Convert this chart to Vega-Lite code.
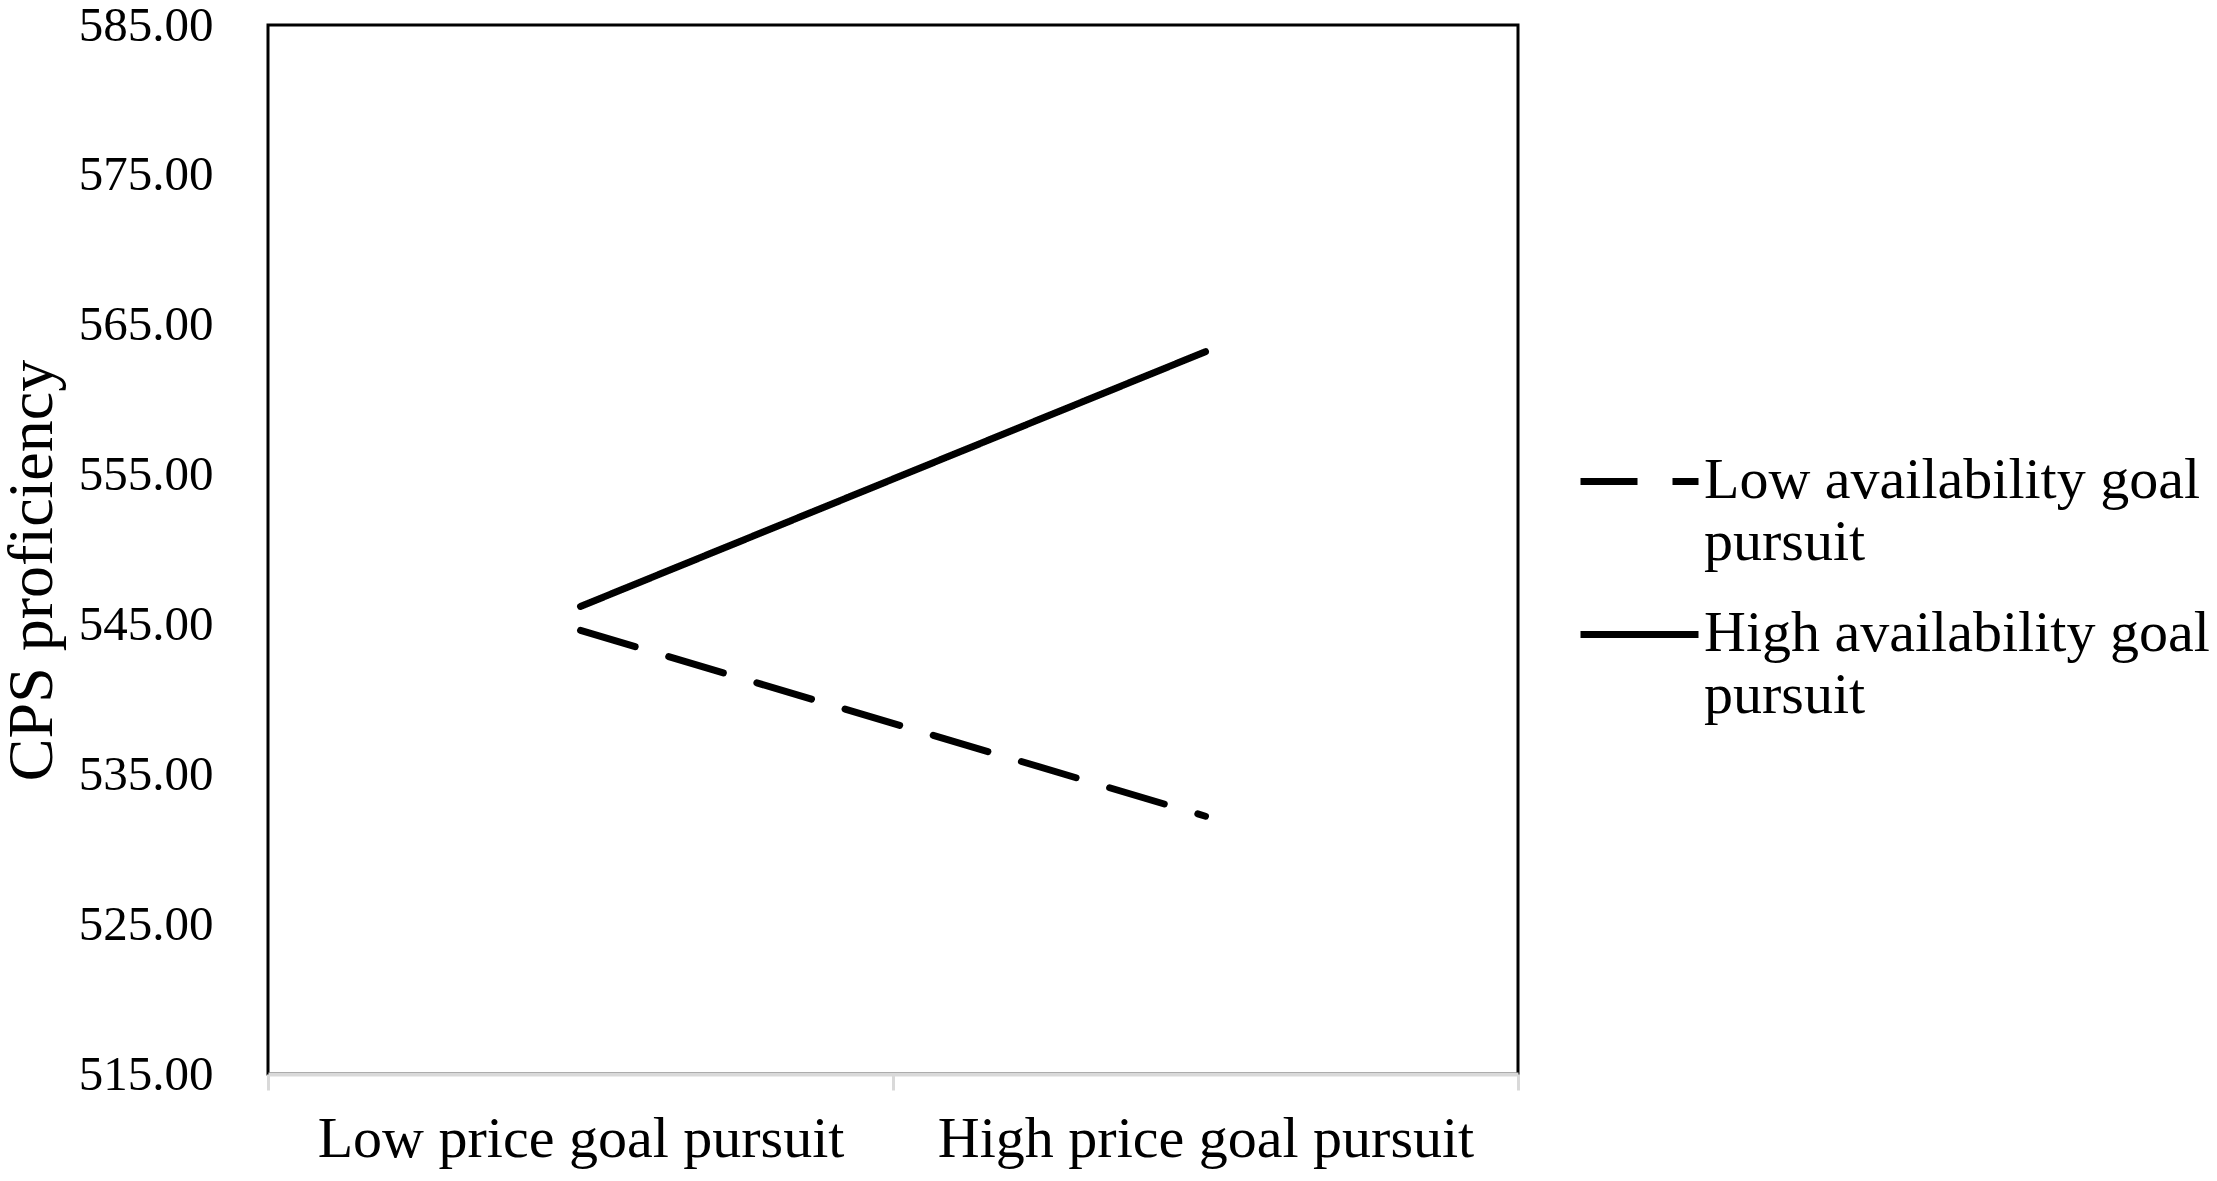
{
  "$schema": "https://vega.github.io/schema/vega-lite/v6.json",
  "autosize": {"type": "none"},
  "padding": {"left": 268, "top": 25, "right": 699, "bottom": 107},
  "width": 1250,
  "height": 1049,
  "background": "white",
  "config": {
    "view": {"stroke": "black", "strokeWidth": 3},
    "font": "Liberation Serif"
  },
  "data": {
    "values": [
      {"price": "Low price goal pursuit", "availability": "Low availability goal pursuit", "cps": 544.6},
      {"price": "High price goal pursuit", "availability": "Low availability goal pursuit", "cps": 532.2},
      {"price": "Low price goal pursuit", "availability": "High availability goal pursuit", "cps": 546.2},
      {"price": "High price goal pursuit", "availability": "High availability goal pursuit", "cps": 563.2}
    ]
  },
  "mark": {"type": "line", "color": "black", "strokeWidth": 7, "strokeCap": "round"},
  "encoding": {
    "x": {
      "field": "price",
      "type": "nominal",
      "sort": ["Low price goal pursuit", "High price goal pursuit"],
      "scale": {"type": "band", "paddingInner": 0, "paddingOuter": 0},
      "axis": {
        "title": null,
        "labelAngle": 0,
        "labelFont": "Liberation Serif",
        "labelFontSize": 58,
        "labelColor": "black",
        "labelPadding": 20,
        "labelBaseline": "top",
        "labelLimit": 1000,
        "tickBand": "extent",
        "tickColor": "#d9d9d9",
        "tickWidth": 3,
        "tickSize": 16,
        "domainColor": "#d9d9d9",
        "domainWidth": 4,
        "grid": false,
        "zindex": 1
      }
    },
    "y": {
      "field": "cps",
      "type": "quantitative",
      "scale": {"domain": [515, 585], "zero": false, "nice": false},
      "axis": {
        "title": "CPS proficiency",
        "titleFont": "Liberation Serif",
        "titleFontSize": 64,
        "titleFontWeight": "normal",
        "titleColor": "black",
        "titlePadding": 14,
        "titleY": 545,
        "values": [515, 525, 535, 545, 555, 565, 575, 585],
        "format": ".2f",
        "labelFont": "Liberation Serif",
        "labelFontSize": 49,
        "labelColor": "black",
        "labelPadding": 55,
        "ticks": false,
        "domain": false,
        "grid": false
      }
    },
    "strokeDash": {
      "field": "availability",
      "type": "nominal",
      "scale": {
        "domain": ["Low availability goal pursuit", "High availability goal pursuit"],
        "range": [[57, 35], [1, 0]]
      },
      "legend": {
        "title": null,
        "orient": "none",
        "legendX": 1309,
        "legendY": 394,
        "padding": 0,
        "symbolType": "stroke",
        "symbolSize": 13924,
        "symbolStrokeWidth": 7,
        "symbolStrokeColor": "black",
        "labelFont": "Liberation Serif",
        "labelFontSize": 58,
        "labelColor": "black",
        "labelLimit": 1000,
        "labelOffset": 2,
        "labelBaseline": "top",
        "rowPadding": 0,
        "labelExpr": "datum.label == 'Low availability goal pursuit' ? ['Low availability goal', 'pursuit'] : ['High availability goal', 'pursuit']",
        "encoding": {
          "labels": {"lineHeight": {"value": 62}, "dy": {"value": -30}}
        }
      }
    }
  }
}
